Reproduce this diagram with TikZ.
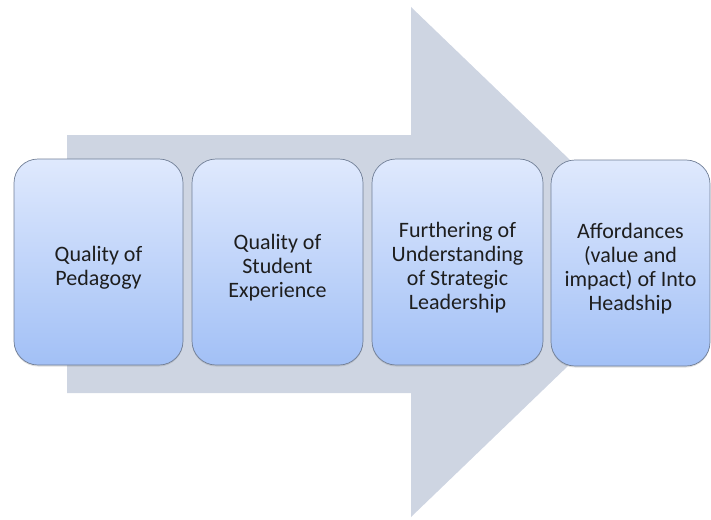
\documentclass[tikz,border=0pt]{standalone}
\usepackage{fontspec}
\setmainfont{Carlito}
\usepackage{xcolor}
\usetikzlibrary{shadows}
\definecolor{flecha}{RGB}{206,213,226}
\definecolor{caja}{RGB}{112,126,150}
\definecolor{altoc}{RGB}{223,233,253}
\definecolor{bajoc}{RGB}{162,192,246}
\definecolor{texto}{RGB}{30,30,30}
% puntal para bajar un poco el texto en cada caja
\newcommand{\bajar}{\rule{0pt}{27pt}}

\begin{document}
\begin{tikzpicture}[x=1pt, y=-1pt,
  font=\fontsize{22}{24}\selectfont,
  paso/.style={draw=caja, line width=0.7pt, rounded corners=24pt,
    top color=altoc, bottom color=bajoc, text=texto, align=center,
    minimum height=206pt, inner sep=4pt,
    drop shadow={shadow xshift=0pt, shadow yshift=-1.5pt, opacity=0.25}}]
  \useasboundingbox (0,0) rectangle (711,519);
  % flecha de fondo
  \fill[flecha] (67,135) -- (411,135) -- (411,7) -- (676,262)
    -- (411,517) -- (411,393) -- (67,393) -- cycle;
  % pasos
  \node[paso, minimum width=169pt] (ped) at (98.5,262)  {\bajar Quality of\\Pedagogy};
  \node[paso, minimum width=171pt] (stu) at (277.5,262) {\bajar Quality of\\Student\\Experience};
  \node[paso, minimum width=171pt] (est) at (457.5,262) {\bajar Furthering of\\Understanding\\of Strategic\\Leadership};
  \node[paso, minimum width=159pt] (aff) at (630.5,263) {\bajar Affordances\\(value and\\impact) of Into\\Headship};
\end{tikzpicture}
\end{document}
